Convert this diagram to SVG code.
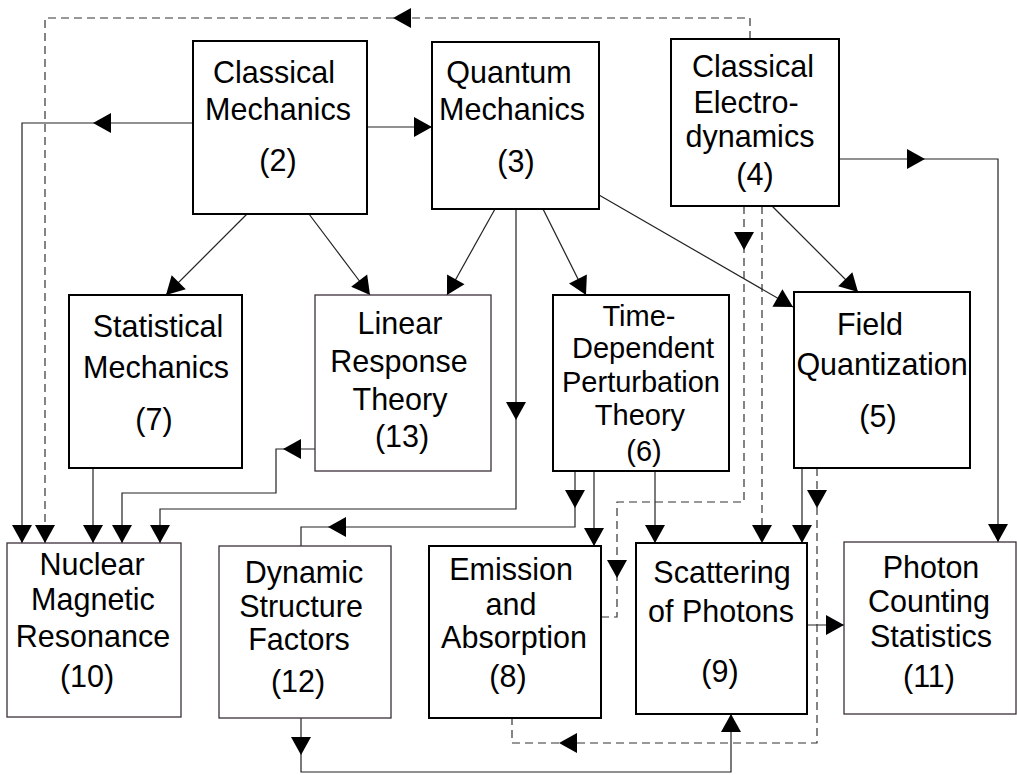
<svg xmlns="http://www.w3.org/2000/svg" xmlns:xlink="http://www.w3.org/1999/xlink" width="1017" height="775" viewBox="0 0 1017 775">
<style>
.box{fill:#fff;stroke:#000;stroke-width:2}
.thin{fill:#fff;stroke:#3a303a;stroke-width:1.3}
.t{font-family:"Liberation Sans",Arial,sans-serif;font-size:30.5px;fill:#000;text-anchor:middle}
.s{font-size:29px}
.c{fill:none;stroke:#222;stroke-width:1.2}
.d{fill:none;stroke:#333;stroke-width:1.2;stroke-dasharray:8,5}
.ah{fill:#000}
</style>
<defs>
<path id="ah" class="ah" d="M0,0 L-18,-10 L-18,10 Z"/>
</defs>
<rect width="1017" height="775" fill="#fff"/>
<g id="connectors">
<path class="c" d="M193,123 H22 V543"/>
<use xlink:href="#ah" transform="translate(93,123) rotate(180)"/>
<use xlink:href="#ah" transform="translate(22,543) rotate(90)"/>
<path class="c" d="M367,127 H432"/>
<use xlink:href="#ah" transform="translate(432,127)"/>
<path class="c" d="M247,214 L166,295"/>
<use xlink:href="#ah" transform="translate(166,295) rotate(135)"/>
<path class="c" d="M309,214 L370,295"/>
<use xlink:href="#ah" transform="translate(370,295) rotate(53)"/>
<path class="c" d="M495,209 L447,295"/>
<use xlink:href="#ah" transform="translate(447,295) rotate(119.2)"/>
<path class="c" d="M543,209 L586,295"/>
<use xlink:href="#ah" transform="translate(586,295) rotate(63.4)"/>
<path class="c" d="M599,195 L793,307"/>
<use xlink:href="#ah" transform="translate(793,307) rotate(30)"/>
<path class="c" d="M516,209 V509 H160 V543"/>
<use xlink:href="#ah" transform="translate(516,420) rotate(90)"/>
<use xlink:href="#ah" transform="translate(160,543) rotate(90)"/>
<path class="c" d="M315,449 H276 V493 H122 V543"/>
<use xlink:href="#ah" transform="translate(283,449) rotate(180)"/>
<use xlink:href="#ah" transform="translate(122,543) rotate(90)"/>
<path class="c" d="M93,468 V543"/>
<use xlink:href="#ah" transform="translate(93,543) rotate(90)"/>
<path class="c" d="M575,471 V527 H301 V546"/>
<use xlink:href="#ah" transform="translate(575,508) rotate(90)"/>
<use xlink:href="#ah" transform="translate(328,527) rotate(180)"/>
<path class="c" d="M301,718 V772 H731 V714"/>
<use xlink:href="#ah" transform="translate(301,755) rotate(90)"/>
<use xlink:href="#ah" transform="translate(731,714) rotate(-90)"/>
<path class="c" d="M594,471 V546"/>
<use xlink:href="#ah" transform="translate(594,546) rotate(90)"/>
<path class="c" d="M655,471 V543"/>
<use xlink:href="#ah" transform="translate(655,543) rotate(90)"/>
<path class="c" d="M772,206 L858,292"/>
<use xlink:href="#ah" transform="translate(858,292) rotate(45)"/>
<path class="c" d="M839,159 H998 V542"/>
<use xlink:href="#ah" transform="translate(925,159)"/>
<use xlink:href="#ah" transform="translate(998,542) rotate(90)"/>
<path class="c" d="M802,468 V543"/>
<use xlink:href="#ah" transform="translate(802,543) rotate(90)"/>
<path class="c" d="M807,625 H844"/>
<use xlink:href="#ah" transform="translate(844,625)"/>
<path class="d" d="M750,39 V18 H45 V543"/>
<use xlink:href="#ah" transform="translate(393,18) rotate(180)"/>
<use xlink:href="#ah" transform="translate(45,543) rotate(90)"/>
<path class="d" d="M744,206 V502 H617 V617 H601"/>
<use xlink:href="#ah" transform="translate(744,250) rotate(90)"/>
<use xlink:href="#ah" transform="translate(617,578) rotate(90)"/>
<path class="d" d="M762,206 V543"/>
<use xlink:href="#ah" transform="translate(762,543) rotate(90)"/>
<path class="d" d="M817,468 V743 H512 V718"/>
<use xlink:href="#ah" transform="translate(817,508) rotate(90)"/>
<use xlink:href="#ah" transform="translate(559,743) rotate(180)"/>
</g>
<g id="n2">
<rect class="box" x="193" y="41" width="174" height="173"/>
<text class="t"><tspan x="274" y="83">Classical</tspan><tspan x="278" y="120">Mechanics</tspan><tspan x="278" y="171">(2)</tspan></text>
</g>
<g id="n3">
<rect class="box" x="432" y="42" width="167" height="167"/>
<text class="t"><tspan x="509" y="83">Quantum</tspan><tspan x="512" y="120">Mechanics</tspan><tspan x="516" y="172">(3)</tspan></text>
</g>
<g id="n4">
<rect class="box" x="671" y="39" width="168" height="167"/>
<text class="t"><tspan x="753" y="77">Classical</tspan><tspan x="746" y="113">Electro-</tspan><tspan x="750" y="147">dynamics</tspan><tspan x="755" y="185">(4)</tspan></text>
</g>
<g id="n7">
<rect class="box" x="69" y="295" width="173" height="173"/>
<text class="t"><tspan x="158" y="337">Statistical</tspan><tspan x="156" y="378">Mechanics</tspan><tspan x="154" y="430">(7)</tspan></text>
</g>
<g id="n13">
<rect class="thin" x="315" y="295" width="176" height="176"/>
<text class="t"><tspan x="400" y="334">Linear</tspan><tspan x="399" y="372">Response</tspan><tspan x="400" y="410">Theory</tspan><tspan x="402" y="447">(13)</tspan></text>
</g>
<g id="n6">
<rect class="box" x="553" y="295" width="176" height="176"/>
<text class="t s"><tspan x="639" y="326">Time-</tspan><tspan x="643" y="358">Dependent</tspan><tspan x="641" y="392">Perturbation</tspan><tspan x="640" y="425">Theory</tspan><tspan x="644" y="461">(6)</tspan></text>
</g>
<g id="n5">
<rect class="box" x="794" y="292" width="176" height="176"/>
<text class="t"><tspan x="870" y="335">Field</tspan><tspan x="882" y="375">Quantization</tspan><tspan x="878" y="427">(5)</tspan></text>
</g>
<g id="n10">
<rect class="thin" x="7" y="543" width="174" height="174"/>
<text class="t"><tspan x="92" y="575">Nuclear</tspan><tspan x="93" y="610">Magnetic</tspan><tspan x="93" y="647">Resonance</tspan><tspan x="87" y="687">(10)</tspan></text>
</g>
<g id="n12">
<rect class="thin" x="219" y="546" width="172" height="172"/>
<text class="t"><tspan x="304" y="583">Dynamic</tspan><tspan x="301" y="617">Structure</tspan><tspan x="299" y="650">Factors</tspan><tspan x="298" y="692">(12)</tspan></text>
</g>
<g id="n8">
<rect class="box" x="429" y="546" width="172" height="172"/>
<text class="t"><tspan x="511" y="580">Emission</tspan><tspan x="511" y="615">and</tspan><tspan x="514" y="648">Absorption</tspan><tspan x="508" y="687">(8)</tspan></text>
</g>
<g id="n9">
<rect class="box" x="636" y="543" width="171" height="171"/>
<text class="t"><tspan x="722" y="583">Scattering</tspan><tspan x="721" y="622">of Photons</tspan><tspan x="720" y="682">(9)</tspan></text>
</g>
<g id="n11">
<rect class="thin" x="844" y="542" width="172" height="172"/>
<text class="t"><tspan x="931" y="578">Photon</tspan><tspan x="929" y="612">Counting</tspan><tspan x="931" y="647">Statistics</tspan><tspan x="929" y="687">(11)</tspan></text>
</g>
</svg>
